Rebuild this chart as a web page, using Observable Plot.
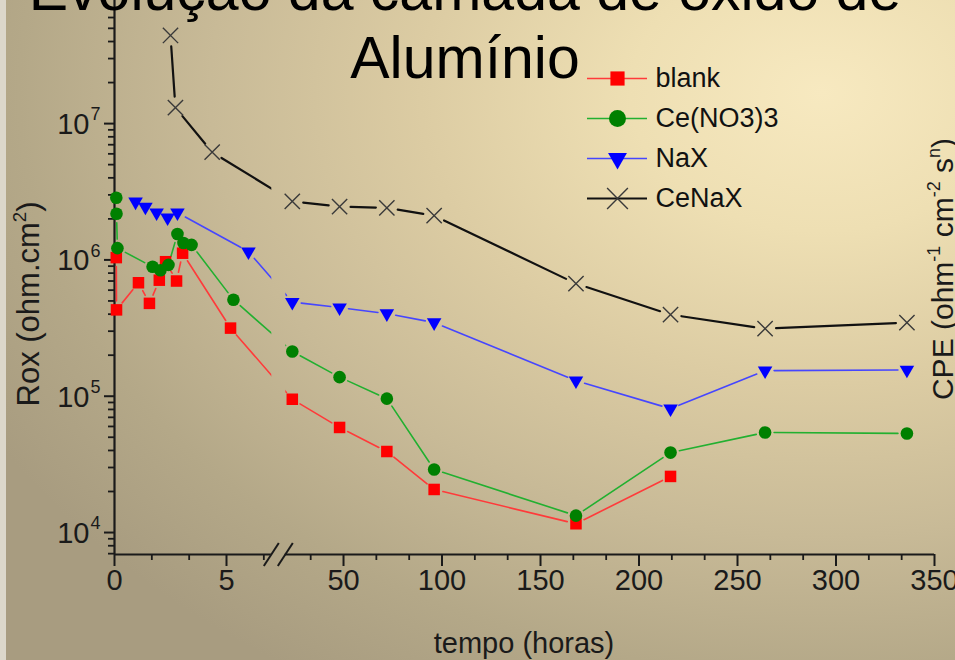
<!DOCTYPE html>
<html lang="pt">
<head>
<meta charset="utf-8">
<title>Evolução da camada de óxido de Alumínio</title>
<script src="https://cdn.jsdelivr.net/npm/d3@7"></script>
<script src="https://cdn.jsdelivr.net/npm/@observablehq/plot@0.6"></script>
<style>
  html, body { margin: 0; padding: 0; }
  body {
    width: 955px; height: 660px; overflow: hidden; position: relative;
    font-family: "Liberation Sans", Arial, sans-serif;
    background: radial-gradient(ellipse 100% 105% at 86% 14%,
      #f7e9c0 0%, #eedfb3 20%, #dccca3 42%, #c8ba97 64%, #b4a888 84%, #a89c80 100%);
  }
  #edge { position: absolute; left: 0; top: 0; width: 6px; height: 660px; background: #dcd7ca; }
  #chart { position: absolute; left: 0; top: 0; }
  #legend { position: absolute; left: 580px; top: 57px; }
  #title {
    position: absolute; left: 0; top: -44px; width: 930px;
    text-align: center; font-size: 59px; line-height: 68px; color: #000;
  }
</style>
</head>
<body>
<div id="edge"></div>
<div id="chart"></div>
<div id="legend"></div>
<div id="title">Evolução da camada de óxido de<br>Alumínio</div>
<script>
// Immersion time (hours) and oxide-layer resistance Rox (ohm·cm²) for each bath
const blankHours = [0.08, 0.09, 1.07, 1.56, 2.0, 2.28, 2.77, 3.04, 5.18, 24, 48, 72, 96, 168, 216];
const blankRox   = [1.04e6, 4.3e5, 6.8e5, 4.8e5, 7.1e5, 9.7e5, 7.0e5, 1.12e6, 3.16e5, 9.5e4, 5.9e4, 3.93e4, 2.07e4, 1.16e4, 2.58e4];

const ceHours = [0.08, 0.09, 0.13, 1.70, 2.05, 2.41, 2.81, 3.08, 3.44, 5.31, 24, 48, 72, 96, 168, 216, 264, 336];
const ceRox   = [2.86e6, 2.18e6, 1.22e6, 8.9e5, 8.4e5, 9.2e5, 1.55e6, 1.33e6, 1.29e6, 5.1e5, 2.13e5, 1.38e5, 9.6e4, 2.9e4, 1.33e4, 3.86e4, 5.42e4, 5.33e4];

const naxHours = [0.94, 1.38, 1.88, 2.37, 2.81, 5.98, 24, 48, 72, 96, 168, 216, 264, 336];
const naxRox   = [2.67e6, 2.45e6, 2.22e6, 2.04e6, 2.22e6, 1.15e6, 4.9e5, 4.47e5, 4.04e5, 3.47e5, 1.30e5, 8.1e4, 1.54e5, 1.56e5];

const cenaxHours = [2.5, 2.72, 4.36, 24, 48, 72, 96, 168, 216, 264, 336];
const cenaxRox   = [4.43e7, 1.31e7, 6.17e6, 2.69e6, 2.46e6, 2.41e6, 2.11e6, 6.7e5, 3.97e5, 3.13e5, 3.47e5];

const seriesNames = ["blank", "Ce(NO3)3", "NaX", "CeNaX"];

// Axis ticks: the time axis is broken between the first hours and the later days
const xMajor = [0, 5, 50, 100, 150, 200, 250, 300, 350];
const xMinor = [5 / 3, 10 / 3, 20 / 3].concat(d3.range(50 / 3, 350, 50 / 3).filter(t => t > 25 && Math.abs(t / 50 - Math.round(t / 50)) > 1e-6));
const yMajor = [1e4, 1e5, 1e6, 1e7];
const yMinor = d3.range(3, 8).flatMap(e => d3.range(2, 10).map(m => m * 10 ** e)).filter(v => v > 6900 && v < 8e7);

// Presentation of each series
const series = [
  {name: seriesNames[0], hours: blankHours, rox: blankRox, symbol: "square", r: 6.5, fill: "#ff0000", stroke: "none", line: "#ff3a3a", lineWidth: 1.6, inset: 9, legendR: 8},
  {name: seriesNames[1], hours: ceHours, rox: ceRox, symbol: "circle", r: 6.3, fill: "#008000", stroke: "none", line: "#22b030", lineWidth: 1.6, inset: 9, legendR: 8.5},
  {name: seriesNames[2], hours: naxHours, rox: naxRox, symbol: "triangle", rotate: 180, r: 5.4, fill: "#0000ff", stroke: "none", line: "#4646ff", lineWidth: 1.6, inset: 9, legendR: 7},
  {name: seriesNames[3], hours: cenaxHours, rox: cenaxRox, symbol: "times", r: 7, fill: "none", stroke: "#3a3a3a", markWidth: 1.4, line: "#111111", lineWidth: 2.2, inset: 11, legendR: 9.5}
];

const ink = "#1a1a1a";
const slash = {draw(ctx) { ctx.moveTo(-7.5, 11.5); ctx.lineTo(7.5, -11.5); }};

const plot = Plot.plot({
  width: 955,
  height: 660,
  marginTop: 0,
  marginRight: 21,
  marginBottom: 106,
  marginLeft: 114,
  style: {background: "transparent", fontFamily: "'Liberation Sans', Arial, sans-serif", color: ink, overflow: "visible"},
  x: {type: "linear", domain: [0, 7, 24, 350], range: [114, 270.8, 291.8, 934], axis: null},
  y: {type: "log", domain: [6900, 8.0e7], axis: null},
  marks: [
    // axis lines, with the gap of the broken time axis
    Plot.ruleX([0], {stroke: ink, strokeWidth: 2.2}),
    Plot.ruleY([6900], {x1: 0, x2: 7, stroke: ink, strokeWidth: 2.2}),
    Plot.ruleY([6900], {x1: 7, x2: 350, insetLeft: 14, stroke: ink, strokeWidth: 2.2}),
    Plot.dot([7], {x: d => d, frameAnchor: "bottom", symbol: slash, r: 10, fill: "none", stroke: ink, strokeWidth: 2}),
    Plot.dot([7], {x: d => d, frameAnchor: "bottom", dx: 14, symbol: slash, r: 10, fill: "none", stroke: ink, strokeWidth: 2}),

    // ticks
    Plot.axisY({ticks: yMajor, tickSize: 10, tickFormat: () => "", label: null, stroke: ink, strokeWidth: 2}),
    Plot.axisY({ticks: yMinor, tickSize: 6, tickFormat: () => "", label: null, stroke: ink, strokeWidth: 1.8}),
    Plot.axisX({ticks: xMajor, tickSize: 12, tickFormat: () => "", label: null, stroke: ink, strokeWidth: 2}),
    Plot.axisX({ticks: xMinor, tickSize: 6, tickFormat: () => "", label: null, stroke: ink, strokeWidth: 1.8}),

    // tick labels
    Plot.text(xMajor, {x: d => d, frameAnchor: "bottom", dy: 35, text: d => String(d), fontSize: 29, fill: ink}),
    Plot.text(yMajor, {x: 0, y: d => d, text: () => "10", textAnchor: "end", dx: -25, dy: 1, fontSize: 29, fill: ink}),
    Plot.text(yMajor, {x: 0, y: d => d, text: d => String(Math.round(Math.log10(d))), textAnchor: "start", dx: -24, dy: -9, fontSize: 18, fill: ink}),

    // connecting lines, stopped short of each symbol
    ...series.map(s => Plot.arrow(d3.pairs(d3.zip(s.hours, s.rox)), {
      x1: d => d[0][0], y1: d => d[0][1], x2: d => d[1][0], y2: d => d[1][1],
      bend: 0, headLength: 0, inset: s.inset, stroke: s.line, strokeWidth: s.lineWidth
    })),

    // symbols
    ...series.map(s => Plot.dot(d3.zip(s.hours, s.rox), {
      x: d => d[0], y: d => d[1], symbol: s.symbol, r: s.r, rotate: s.rotate || 0,
      fill: s.fill, stroke: s.stroke, strokeWidth: s.markWidth || 0
    }))
  ]
});

document.getElementById("chart").append(plot);

// Hide the connecting lines where they cross the break of the time axis
const svg = d3.select(plot);
const xScale = plot.scale("x");
const gapStart = xScale.apply(7), gapEnd = gapStart + 14;
const clip = svg.append("defs").append("clipPath").attr("id", "axis-break-gap");
clip.append("rect").attr("x", -20).attr("y", -20).attr("width", gapStart + 20).attr("height", 700);
clip.append("rect").attr("x", gapEnd).attr("y", -20).attr("width", 1000 - gapEnd).attr("height", 700);
svg.selectAll('g[aria-label="arrow"]').attr("clip-path", "url(#axis-break-gap)");

// Axis titles with superscripts
function axisTitle({x, y, rotate = 0, size, parts}) {
  const t = svg.append("text")
    .attr("transform", `translate(${x},${y})${rotate ? ` rotate(${rotate})` : ""}`)
    .attr("text-anchor", "middle")
    .attr("font-size", size)
    .attr("fill", ink);
  let raised = false;
  for (const [str, sup] of parts) {
    const ts = t.append("tspan").text(str);
    if (sup && !raised) { ts.attr("font-size", size * 0.6).attr("dy", -size * 0.42); raised = true; }
    else if (sup) { ts.attr("font-size", size * 0.6); }
    else if (raised) { ts.attr("dy", size * 0.42); raised = false; }
  }
}
axisTitle({x: 524, y: 653, size: 29, parts: [["tempo (horas)"]]});
axisTitle({x: 39, y: 304, rotate: -90, size: 31, parts: [["Rox (ohm.cm"], ["2", true], [")"]]});
axisTitle({x: 953, y: 269, rotate: -90, size: 30, parts: [["CPE (ohm"], ["-1", true], [" cm"], ["-2", true], [" s"], ["n", true], [")"]]});

// Legend
const legend = Plot.plot({
  width: 230,
  height: 170,
  margin: 0,
  style: {background: "transparent", fontFamily: "'Liberation Sans', Arial, sans-serif", overflow: "visible"},
  x: {domain: [0, 1], range: [7, 67], axis: null},
  y: {type: "point", domain: seriesNames, range: [20, 142], padding: 0, axis: null},
  marks: series.flatMap(s => [
    Plot.ruleY([s.name], {y: d => d, x1: 0, x2: 1, stroke: s.line, strokeWidth: s.lineWidth}),
    Plot.dot([s.name], {x: 0.5, y: d => d, symbol: s.symbol, r: s.legendR, rotate: s.rotate || 0,
      fill: s.fill, stroke: s.stroke, strokeWidth: s.markWidth || 0}),
    Plot.text([s.name], {x: 1, y: d => d, dx: 8, text: d => d, textAnchor: "start", fontSize: 27, fill: "#111"})
  ])
});
document.getElementById("legend").append(legend);
</script>
</body>
</html>
